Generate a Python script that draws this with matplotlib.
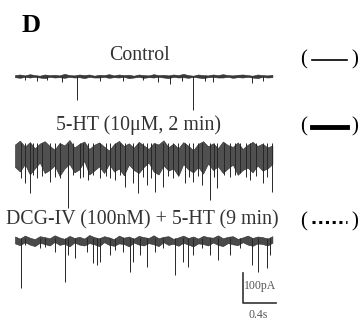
import numpy as np
import matplotlib
matplotlib.use("Agg")
import matplotlib.pyplot as plt
from matplotlib.lines import Line2D

W, H = 361, 321
plt.rcParams['font.family'] = ['Liberation Serif', 'DejaVu Serif']

# --- data (time in s, current in pA relative to each trace baseline) ---
titles = ["Control", "5-HT (10\u03bcM, 2 min)", "DCG-IV (100nM) + 5-HT (9 min)"]

# sample times of the noise envelope, shared by the three traces
env_t = [0.00, 0.06, 0.12, 0.18, 0.24, 0.30, 0.36, 0.42, 0.48, 0.54,
         0.60, 0.66, 0.72, 0.78, 0.84, 0.90, 0.96, 1.02, 1.08, 1.14,
         1.20, 1.26, 1.32, 1.38, 1.44, 1.50, 1.56, 1.62, 1.68, 1.74,
         1.80, 1.86, 1.92, 1.98, 2.04, 2.10, 2.16, 2.22, 2.28, 2.34,
         2.40, 2.46, 2.52, 2.58, 2.64, 2.70, 2.76, 2.82, 2.88, 2.94,
         3.00, 3.06, 3.12]

ctrl_hi = [3, 5, 2, 6, 3, 1, 5, 3, 4, 2,
           7, 3, 2, 5, 3, 5, 1, 4, 3, 6,
           2, 5, 3, 4, 1, 5, 3, 2, 6, 3,
           4, 2, 5, 3, 7, 3, 1, 5, 3, 2,
           5, 3, 6, 3, 2, 4, 5, 3, 1, 5,
           3, 2, 4]
ctrl_lo = [-4, -6, -3, -5, -3, -5, -7, -3, -5, -4,
           -6, -3, -5, -4, -7, -3, -5, -5, -3, -6,
           -4, -5, -3, -7, -5, -3, -6, -4, -5, -3,
           -5, -7, -3, -5, -4, -6, -3, -5, -7, -4,
           -3, -5, -5, -3, -6, -4, -5, -3, -5, -7,
           -3, -5, -4]
ctrl_ev_t = [0.12, 0.27, 0.39, 0.57, 0.75, 1.03, 1.31, 1.55, 1.73, 1.88, 2.02, 2.16, 2.30, 2.40, 2.87, 3.01]
ctrl_ev_a = [-13, -17, -13, -20, -80, -17, -17, -13, -20, -27, -17, -113, -17, -20, -23, -17]

ht_hi = [-5, 8, -12, 3, -18, -2, 6, -10, -22, 0,
         -8, 10, -15, -3, 5, -20, -6, 2, -12, -25,
         -4, 7, -10, -1, -16, 4, -8, -20, 0, -5,
         9, -14, -2, -18, 3, -9, -24, -3, 6, -11,
         -1, -17, 5, -7, -13, 2, -20, -6, 4, -10,
         -2, -15, -8]
ht_lo = [-80, -95, -70, -105, -85, -65, -100, -90, -75, -110,
         -85, -70, -98, -88, -60, -105, -92, -78, -100, -70,
         -95, -85, -108, -72, -90, -100, -80, -65, -95, -105,
         -75, -92, -85, -110, -70, -88, -98, -80, -102, -68,
         -90, -78, -100, -85, -72, -106, -90, -82, -98, -75,
         -92, -85, -70]
ht_ev_t = [0.07, 0.12, 0.18, 0.22, 0.27, 0.33, 0.42, 0.48, 0.55, 0.64, 0.70, 0.79, 0.83, 0.88,
           0.95, 1.03, 1.10, 1.15, 1.21, 1.27, 1.33, 1.43, 1.49, 1.55, 1.60, 1.65, 1.70, 1.79,
           1.85, 1.92, 1.98, 2.06, 2.11, 2.16, 2.22, 2.27, 2.36, 2.41, 2.45, 2.53, 2.61, 2.67,
           2.73, 2.80, 2.85, 2.92, 3.00, 3.06, 3.12]
ht_ev_a = [-117, -133, -167, -105, -117, -110, -130, -112, -117, -217, -108, -117, -112, -123,
           -105, -117, -110, -115, -123, -108, -147, -133, -167, -112, -140, -115, -163, -147,
           -110, -117, -108, -133, -112, -130, -110, -140, -190, -112, -150, -108, -113, -105,
           -100, -112, -123, -110, -133, -112, -163]

dcg_hi = [5, -2, 8, 1, -4, 6, 3, -1, 9, 2,
          -3, 7, 0, 4, -2, 10, 3, -1, 6, 2,
          -4, 8, 1, 5, -2, 7, 3, 0, 9, -1,
          4, 6, -3, 2, 8, 0, 5, -2, 7, 3,
          1, 9, -1, 4, 6, -3, 2, 8, 0, 5,
          3, -2, 6]
dcg_lo = [-18, -24, -14, -22, -27, -16, -20, -25, -13, -23,
          -19, -28, -15, -22, -25, -17, -21, -27, -14, -23,
          -26, -18, -20, -28, -15, -22, -25, -17, -21, -27,
          -14, -23, -19, -26, -16, -22, -28, -18, -20, -25,
          -15, -23, -27, -17, -21, -24, -14, -22, -26, -18,
          -20, -25, -16]
dcg_ev_t = [0.07, 0.12, 0.30, 0.36, 0.48, 0.61, 0.64, 0.73, 0.87, 0.95, 0.99, 1.03, 1.15, 1.21,
            1.31, 1.39, 1.43, 1.52, 1.60, 1.70, 1.79, 1.94, 2.04, 2.10, 2.16, 2.27, 2.36, 2.46,
            2.61, 2.73, 2.87, 2.95, 3.05, 3.09]
dcg_ev_a = [-167, -23, -33, -30, -47, -147, -57, -67, -47, -83, -90, -80, -57, -40,
            -47, -113, -80, -57, -97, -47, -33, -123, -80, -97, -57, -33, -57, -73,
            -57, -33, -90, -113, -100, -57]

scale_t, scale_pa = 0.4, 100

# --- layout: 0.4 s = 33 px, 100 pA = 30 px ---
px_per_s = 33 / 0.4
pa_per_px = 100 / 30
t0_px = 15
bases_px = [76, 143, 238]
title_y_px = [56, 125, 220]
title_x_px = [139, 139, 142]

fig = plt.figure(figsize=(W / 100, H / 100), dpi=100)
ax = fig.add_axes([0, 0, 1, 1])
ax.set_xlim(-t0_px / px_per_s, (W - t0_px) / px_per_s)
ax.set_ylim(-H * pa_per_px, 0)
ax.axis('off')

traces = [
    (ctrl_hi, ctrl_lo, ctrl_ev_t, ctrl_ev_a, '#3a3a3a'),
    (ht_hi, ht_lo, ht_ev_t, ht_ev_a, '#505050'),
    (dcg_hi, dcg_lo, dcg_ev_t, dcg_ev_a, '#4a4a4a'),
]
for (hi, lo, evt, eva, col), bp in zip(traces, bases_px):
    base = -bp * pa_per_px
    ax.fill_between(env_t, base + np.array(hi), base + np.array(lo), facecolor=col,
                    edgecolor='#2a2a2a', lw=0.4)
    ax.vlines(evt, base, base + np.array(eva), color='#262626', lw=0.7)

# scale bar
sb_t = (243 - t0_px) / px_per_s
sb_y = -303 * pa_per_px
ax.plot([sb_t, sb_t, sb_t + scale_t], [sb_y + scale_pa, sb_y, sb_y], color='#333333', lw=1.2)
fig.text(244 / W, 1 - 286 / H, "%dpA" % scale_pa, fontsize=8.5, color='#555555', va='center')
fig.text(258 / W, 1 - 315 / H, "%.1fs" % scale_t, fontsize=8.5, color='#555555',
         va='center', ha='center')

# titles
fig.text(22 / W, 1 - 14 / H, "D", fontsize=19, fontweight='bold', va='top')
for txt, x, y in zip(titles, title_x_px, title_y_px):
    fig.text(x / W, 1 - y / H, txt, fontsize=14.3, color='#333333', ha='center', va='center')

# legend marks
styles = [dict(lw=1.2, ls='-'), dict(lw=3.5, ls='-'), dict(lw=2.2, ls=(0, (1, 1.2)))]
leg_y_px = [60, 127, 222]
for st, y in zip(styles, leg_y_px):
    fig.text(304 / W, 1 - y / H, "(", fontsize=15, va='center', ha='center')
    fig.text(355 / W, 1 - y / H, ")", fontsize=15, va='center', ha='center')
    fig.add_artist(Line2D([312 / W, 347 / W], [1 - y / H, 1 - y / H], color='black', **st))

fig.savefig("out.png", dpi=100)
